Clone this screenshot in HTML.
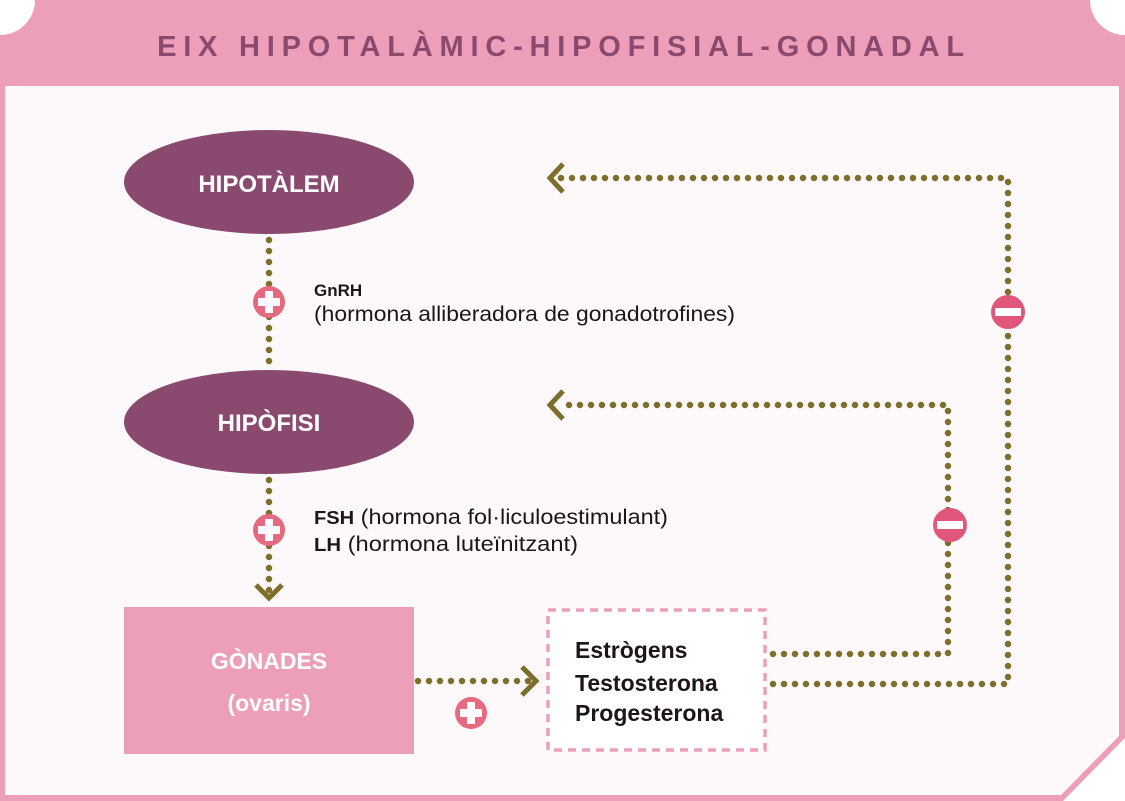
<!DOCTYPE html>
<html><head><meta charset="utf-8"><style>
html,body{margin:0;padding:0;background:#fff;}
svg{display:block;}
text{font-family:"Liberation Sans",sans-serif;}
</style></head><body>
<svg width="1125" height="801" viewBox="0 0 1125 801" xmlns="http://www.w3.org/2000/svg">
<defs>
<g id="plus"><circle r="16" fill="#e6697f"/><rect x="-11" y="-4" width="22" height="8" fill="#fff"/><rect x="-4" y="-11" width="8" height="22" fill="#fff"/></g>
<g id="minus"><circle r="17" fill="#e0577b"/><rect x="-13" y="-4" width="26" height="8" fill="#fff"/></g>
</defs>
<path d="M0,0 H1125 V738 L1063,801 H0 Z" fill="#ed9fba"/>
<circle cx="0" cy="0" r="35" fill="#fff"/>
<circle cx="1125" cy="0" r="35" fill="#fff"/>
<path d="M5,86 H1119 V736 L1061,795 H5 Z" fill="#fdf8f9"/>
<text x="564" y="56" text-anchor="middle" font-size="29" font-weight="bold" fill="#8a4a70" letter-spacing="6.8">EIX HIPOTALÀMIC-HIPOFISIAL-GONADAL</text>

<g stroke="#7d6e2b" stroke-width="6.5" stroke-linecap="round" stroke-dasharray="0 11" fill="none">
<path d="M269,240 V372"/>
<path d="M269,480 V595"/>
<path d="M418,681 H530"/>
<path d="M773,684 H1008 V178 H560"/>
<path d="M773,654 H948 V405 H560"/>
</g>
<g stroke="#7d6e2b" stroke-width="5" fill="none">
<path d="M256,585 L269,598 L282,585"/>
<path d="M522,667 L536,681 L522,695"/>
<path d="M563,164 L550,178 L563,192"/>
<path d="M563,391 L550,405 L563,419"/>
</g>

<ellipse cx="269" cy="182" rx="145" ry="52" fill="#8a4a70"/>
<text x="269" y="192" text-anchor="middle" font-size="24" font-weight="bold" fill="#fff">HIPOTÀLEM</text>
<ellipse cx="269" cy="422" rx="145" ry="52" fill="#8a4a70"/>
<text x="269" y="431" text-anchor="middle" font-size="24" font-weight="bold" fill="#fff">HIPÒFISI</text>

<use href="#plus" x="269" y="302"/>
<use href="#plus" x="269" y="530"/>
<use href="#plus" x="471" y="713"/>
<use href="#minus" x="1008" y="312"/>
<use href="#minus" x="950" y="525"/>

<text x="314" y="296" font-size="17" font-weight="bold" fill="#1e1616">GnRH</text>
<text x="314" y="321" font-size="21" fill="#1e1616" textLength="421" lengthAdjust="spacingAndGlyphs">(hormona alliberadora de gonadotrofines)</text>
<text x="314" y="524" font-size="21" fill="#1e1616" textLength="354" lengthAdjust="spacingAndGlyphs"><tspan font-weight="bold" font-size="18">FSH</tspan> (hormona fol·liculoestimulant)</text>
<text x="314" y="551" font-size="21" fill="#1e1616" textLength="264" lengthAdjust="spacingAndGlyphs"><tspan font-weight="bold" font-size="18">LH</tspan> (hormona luteïnitzant)</text>

<rect x="124" y="607" width="290" height="147" fill="#ed9fba"/>
<text x="269" y="669" text-anchor="middle" font-size="23" font-weight="bold" fill="#fff">GÒNADES</text>
<text x="269" y="711" text-anchor="middle" font-size="23" font-weight="bold" fill="#fff">(ovaris)</text>

<rect x="548" y="610" width="217" height="140" fill="#fff" stroke="#ed9fba" stroke-width="3.5" stroke-dasharray="8 6"/>
<text x="575" y="658" font-size="23" font-weight="bold" fill="#1e1616">Estrògens</text>
<text x="575" y="691" font-size="23" font-weight="bold" fill="#1e1616">Testosterona</text>
<text x="575" y="721" font-size="23" font-weight="bold" fill="#1e1616">Progesterona</text>
</svg>
</body></html>
